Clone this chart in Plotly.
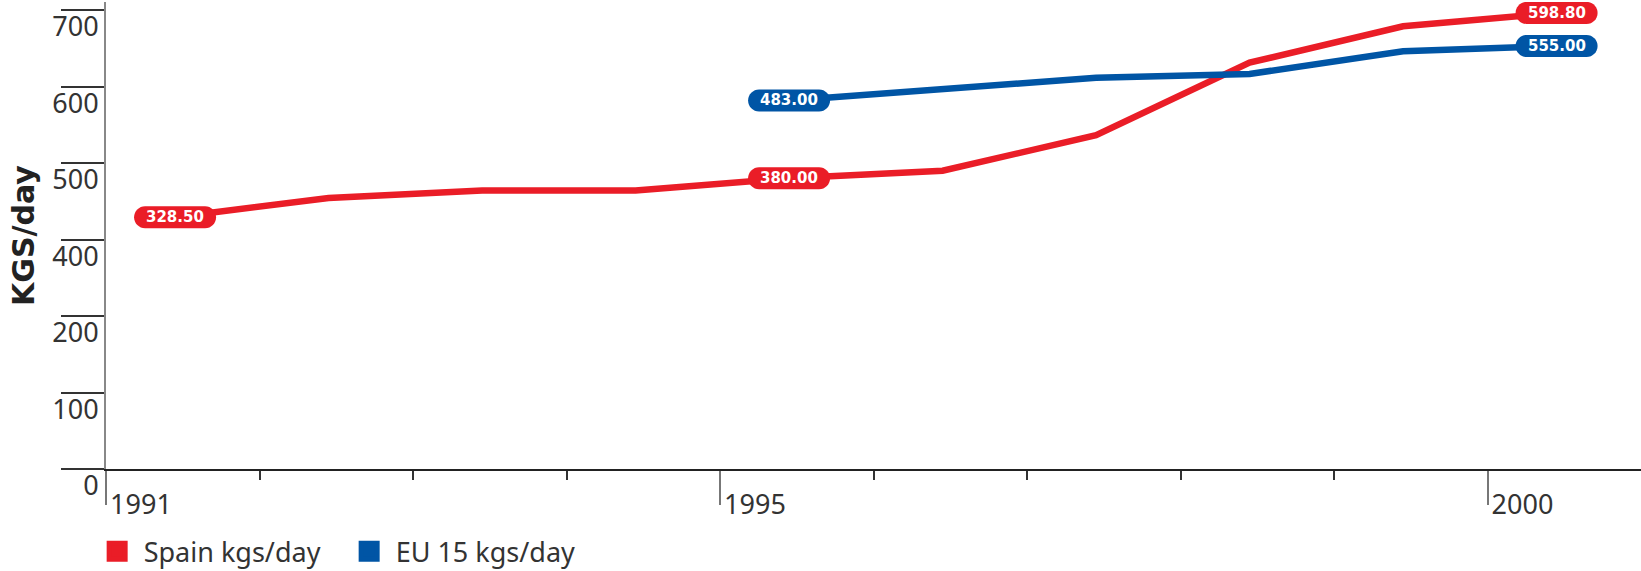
import numpy as np
import plotly.graph_objects as go

# Daily volumes, kgs/day
years = list(range(1991, 2001))
spain = [328.5, 354, 364, 364, 380.0, 390, 437, 533, 581, 598.8]
eu_years = list(range(1995, 2001))
eu15 = [483.0, 498, 513, 518, 548, 555.0]

labelled_years = [1991, 1995, 2000]
major_years = [1991, 1995, 2000]
y_tick_text = ["0", "100", "200", "400", "500", "600", "700"]

RED = "#EA1D27"
BLUE = "#0055A5"
TEXT = "#333333"
MID_YEAR = 0.45          # values are plotted mid-year

# value axis: seven evenly spaced ticks over the drawn span
y_lo, y_tick_top, y_hi = -4.5, 602.6, 613.2
y_tickvals = np.linspace(y_lo, y_tick_top, len(y_tick_text))

PILL = ("M-30,-11L30,-11C36.08,-11,41,-6.08,41,0C41,6.08,36.08,11,30,11"
        "L-30,11C-36.08,11,-41,6.08,-41,0C-41,-6.08,-36.08,-11,-30,-11Z")

fig = go.Figure()

series = [("Spain kgs/day", years, spain, RED),
          ("EU 15 kgs/day", eu_years, eu15, BLUE)]

shapes, annotations = [], []
for name, xs, ys, color in series:
    xpos = np.array(xs) + MID_YEAR
    fig.add_trace(go.Scatter(
        x=xpos, y=ys, mode="lines", name=name, legendgroup=name,
        line=dict(color=color, width=6.5), showlegend=False,
        hoverinfo="skip"))
    fig.add_trace(go.Scatter(
        x=[None], y=[None], mode="markers", name=name, legendgroup=name,
        marker=dict(symbol="square", size=16, color=color,
                    line=dict(color=color, width=5))))
    for yr, x, v in zip(xs, xpos, ys):
        if yr not in labelled_years:
            continue
        shapes.append(dict(
            type="path", xref="x", yref="y", xsizemode="pixel",
            ysizemode="pixel", xanchor=x, yanchor=v, path=PILL,
            fillcolor=color, line=dict(width=0), layer="above"))
        annotations.append(dict(
            x=x, y=v, xref="x", yref="y", text=f"{v:.2f}",
            showarrow=False, xanchor="center", yanchor="middle",
            font=dict(family="DejaVu Sans", size=15, color="white",
                      weight="bold")))

tick_font = dict(family="Noto Sans", size=27, color=TEXT)

fig.update_layout(
    width=1641, height=571,
    margin=dict(l=106, r=0, t=2, b=102, autoexpand=False),
    paper_bgcolor="white", plot_bgcolor="white",
    shapes=shapes, annotations=annotations,
    showlegend=True,
    legend=dict(orientation="h", x=-0.010, xanchor="left",
                y=-0.177, yanchor="middle", entrywidth=194, itemwidth=43,
                font=dict(family="Noto Sans", size=27, color=TEXT),
                bgcolor="rgba(0,0,0,0)"),
    xaxis=dict(
        range=[1991, 2001], tickmode="array", tickvals=major_years,
        ticktext=[str(y) for y in major_years],
        ticks="outside", ticklen=34, tickwidth=1.5, tickcolor="#777777",
        showline=True, linecolor="#222222", linewidth=2,
        showgrid=False, zeroline=False,
        minor=dict(tickmode="array", tickvals=years, ticks="outside",
                   ticklen=9, tickwidth=1.5, tickcolor="#333333"),
        tickfont=tick_font, ticklabelshift=35, ticklabelstandoff=-23,
        automargin=False),
    yaxis=dict(
        range=[y_lo, y_hi], tickmode="array", tickvals=y_tickvals,
        ticktext=y_tick_text,
        ticks="outside", ticklen=43, tickwidth=1.5, tickcolor="#333333",
        showline=True, linecolor="#888888", linewidth=2,
        showgrid=False, zeroline=False,
        tickfont=tick_font, ticklabelshift=17, ticklabelstandoff=-43,
        title=dict(text="KGS/day", standoff=9,
                   font=dict(family="DejaVu Sans", size=30, color="#222222",
                             weight="bold")),
        automargin=False),
)

fig.write_html("out.html")
